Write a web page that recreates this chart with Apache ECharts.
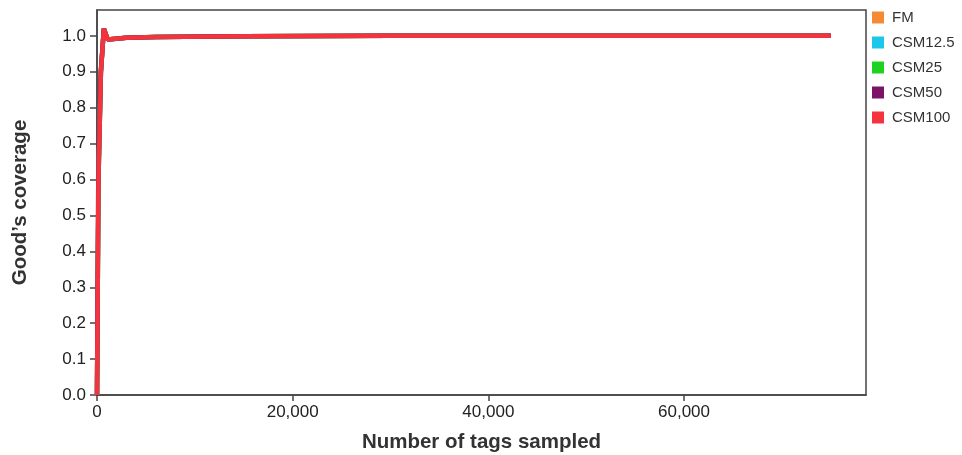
<!DOCTYPE html>
<html>
<head>
<meta charset="utf-8">
<script src="https://cdn.jsdelivr.net/npm/echarts@6/dist/echarts.min.js"></script>
<style>
  html, body { margin: 0; padding: 0; background: #fff; }
  #chart { width: 962px; height: 455px; }
</style>
</head>
<body>
<div id="chart"></div>
<script>
// Good's coverage curves per sample: [tags sampled, coverage]
const seriesNames = ['FM', 'CSM12.5', 'CSM25', 'CSM50', 'CSM100'];
const seriesColors = ['#F58A35', '#1CC7EA', '#1FD21F', '#7B1466', '#F5333F'];

const fmData = [[0, 0], [150, 0.6], [400, 0.9], [700, 1.02], [1100, 0.99], [3000, 0.995], [6000, 0.997], [15000, 0.999], [30000, 1.0], [75000, 1.0]];
const csm125Data = [[0, 0], [150, 0.6], [400, 0.9], [700, 1.02], [1100, 0.99], [3000, 0.995], [6000, 0.997], [15000, 0.999], [30000, 1.0], [75000, 1.0]];
const csm25Data = [[0, 0], [150, 0.6], [400, 0.9], [700, 1.02], [1100, 0.99], [3000, 0.995], [6000, 0.997], [15000, 0.999], [30000, 1.0], [75000, 1.0]];
const csm50Data = [[0, 0], [130, 0.6], [390, 0.9], [700, 1.02], [1100, 0.99], [3000, 0.995], [6000, 0.997], [15000, 0.999], [30000, 1.0], [75000, 1.0]];
const csm100Data = [[0, 0], [150, 0.6], [400, 0.9], [700, 1.02], [1100, 0.99], [3000, 0.995], [6000, 0.997], [15000, 0.999], [30000, 1.0], [75000, 1.0]];

const yTicks = [0, 0.1, 0.2, 0.3, 0.4, 0.5, 0.6, 0.7, 0.8, 0.9, 1.0];
const xTicks = [0, 20000, 40000, 60000];

const allData = [fmData, csm125Data, csm25Data, csm50Data, csm100Data];

const chart = echarts.init(document.getElementById('chart'), null, { renderer: 'canvas' });

const font = "'Liberation Sans', Arial, sans-serif";

chart.setOption({
  animation: false,
  grid: {
    left: 97, top: 10, right: 96, bottom: 60,
    outerBoundsMode: 'none', containLabel: false,
    show: true, borderColor: '#444', borderWidth: 1.5, backgroundColor: '#fff'
  },
  legend: {
    orient: 'vertical',
    left: 867, top: 5,
    itemWidth: 12, itemHeight: 12, itemGap: 10,
    icon: 'rect',
    data: seriesNames,
    textStyle: { fontFamily: font, fontSize: 15, color: '#333', padding: [0, 0, 0, 3] }
  },
  xAxis: {
    type: 'value', min: 0, max: 78600,
    name: 'Number of tags sampled', nameLocation: 'middle', nameGap: 37,
    nameTextStyle: { fontFamily: font, fontSize: 20.5, fontWeight: 'bold', color: '#333' },
    axisLine: { show: true, lineStyle: { color: '#444', width: 1.5 } },
    axisTick: { show: true, length: 6, lineStyle: { color: '#444', width: 1.5 }, customValues: xTicks },
    axisLabel: {
      fontFamily: font, fontSize: 17, color: '#222', margin: 9,
      customValues: xTicks,
      formatter: v => v.toLocaleString('en-US')
    },
    splitLine: { show: false }
  },
  yAxis: {
    type: 'value', min: 0, max: 1.072,
    name: 'Good’s coverage', nameLocation: 'middle', nameGap: 66,
    nameTextStyle: { fontFamily: font, fontSize: 20.5, fontWeight: 'bold', color: '#333' },
    axisLine: { show: true, lineStyle: { color: '#444', width: 1.5 } },
    axisTick: { show: true, length: 7, lineStyle: { color: '#444', width: 1.5 }, customValues: yTicks },
    axisLabel: {
      fontFamily: font, fontSize: 17, color: '#222', margin: 11,
      customValues: yTicks,
      formatter: v => v.toFixed(1)
    },
    splitLine: { show: false }
  },
  series: seriesNames.map((name, i) => ({
    name: name,
    type: 'line',
    data: allData[i],
    color: seriesColors[i],
    showSymbol: false,
    symbol: 'none',
    lineStyle: { width: 4.5, color: seriesColors[i] },
    z: 2 + i
  }))
});
</script>
</body>
</html>
